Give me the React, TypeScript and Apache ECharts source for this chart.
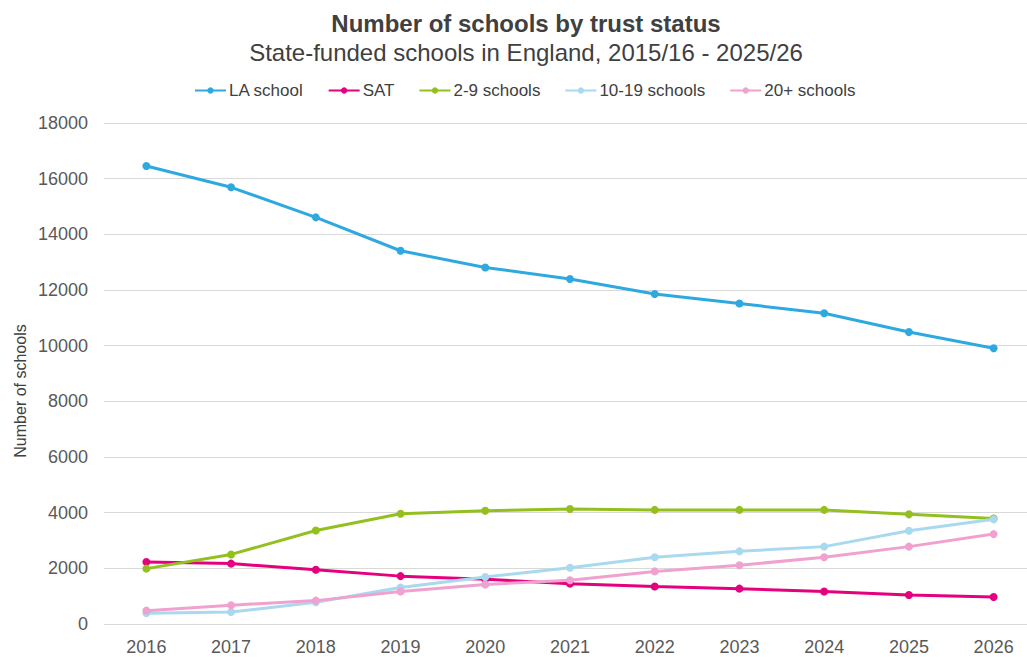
import React, { useEffect, useRef } from "react";
import * as echarts from "echarts";

const years = ["2016", "2017", "2018", "2019", "2020", "2021", "2022", "2023", "2024", "2025", "2026"];
const laSchool = [16455, 15690, 14610, 13410, 12810, 12395, 11857, 11512, 11167, 10488, 9905];
const sat = [2230, 2170, 1950, 1720, 1610, 1450, 1350, 1270, 1170, 1040, 970];
const twoToNine = [1990, 2500, 3360, 3960, 4070, 4130, 4100, 4100, 4100, 3940, 3790];
const tenToNineteen = [390, 430, 780, 1310, 1690, 2020, 2400, 2610, 2780, 3350, 3760];
const twentyPlus = [480, 675, 840, 1170, 1420, 1570, 1890, 2110, 2400, 2780, 3230];

const seriesNames = ["LA school", "SAT", "2-9 schools", "10-19 schools", "20+ schools"];
const seriesData = [laSchool, sat, twoToNine, tenToNineteen, twentyPlus];
const colors = ["#2EA9E0", "#E5007D", "#93C01F", "#A9D9EE", "#F0A1CF"];

export default function App() {
  const ref = useRef<HTMLDivElement>(null);
  useEffect(() => {
    if (!ref.current) return;
    const chart = echarts.init(ref.current, undefined, { renderer: "svg" });
    const font = "'Liberation Sans', Arial, sans-serif";
    chart.setOption({
      animation: false,
      color: colors,
      textStyle: { fontFamily: font },
      title: [
        {
          text: "Number of schools by trust status",
          left: 521,
          textAlign: "center",
          top: 6,
          textStyle: { fontFamily: font, fontSize: 24, fontWeight: "bold", color: "#404040" },
        },
        {
          text: "State-funded schools in England, 2015/16 - 2025/26",
          left: 521,
          textAlign: "center",
          top: 35,
          textStyle: { fontFamily: font, fontSize: 24, fontWeight: "normal", color: "#404040" },
        },
      ],
      legend: {
        top: 77,
        left: 189,
        itemWidth: 31,
        itemHeight: 8,
        itemGap: 24,
        textStyle: { fontFamily: font, fontSize: 17, color: "#404040", padding: [0, 0, 0, -2] },
        data: seriesNames,
      },
      grid: { left: 104, top: 123, width: 932, bottom: 33, containLabel: false, outerBoundsMode: "none" },
      xAxis: {
        type: "category",
        data: years,
        boundaryGap: true,
        axisLine: { show: false },
        axisTick: { show: false },
        axisLabel: { fontFamily: font, fontSize: 18, color: "#595959", margin: 14 },
      },
      yAxis: {
        type: "value",
        min: 0,
        max: 18000,
        interval: 2000,
        axisLine: { show: false },
        axisTick: { show: false },
        splitLine: { lineStyle: { color: "#D9D9D9", width: 1 } },
        axisLabel: {
          fontFamily: font,
          fontSize: 18,
          color: "#595959",
          margin: 16,
          formatter: (v: number) => String(v),
        },
      },
      graphic: [
        {
          type: "text",
          x: 20,
          y: 391,
          rotation: Math.PI / 2,
          style: {
            text: "Number of schools",
            fontFamily: font,
            fontSize: 16,
            fill: "#404040",
            align: "center",
            verticalAlign: "middle",
          },
        },
      ],
      series: seriesNames.map((name, i) => ({
        name,
        type: "line",
        data: seriesData[i],
        symbol: "circle",
        symbolSize: 8,
        lineStyle: { width: 3, color: colors[i] },
        itemStyle: { color: colors[i] },
        z: 2 + i,
      })),
    });
    return () => chart.dispose();
  }, []);
  return <div ref={ref} style={{ position: "absolute", left: 0, top: 0, width: 1027, height: 657 }} />;
}
